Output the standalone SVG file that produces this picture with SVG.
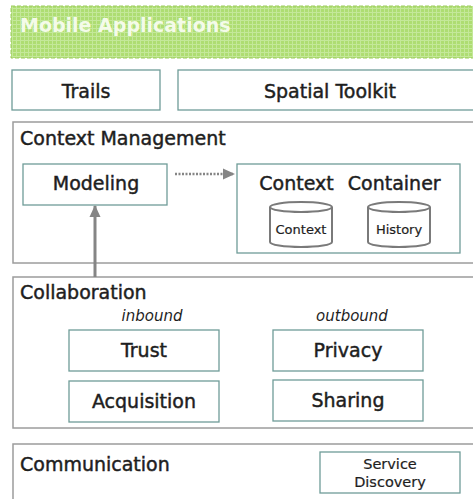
<svg xmlns="http://www.w3.org/2000/svg" width="473" height="499" viewBox="0 0 473 499">
  <style>
    .panel { fill: #ffffff; stroke: #9c9c9c; stroke-width: 1.5; }
    .box { fill: #ffffff; stroke: #6f9c98; stroke-width: 1.3; }
    text { font-family: "DejaVu Sans", "Liberation Sans", sans-serif; fill: #1e1e1e; }
    .title { font-size: 19px; stroke: #1e1e1e; stroke-width: 0.45; }
    .label { font-size: 19px; stroke: #1e1e1e; stroke-width: 0.45; text-anchor: middle; }
    .small { font-size: 13px; text-anchor: middle; stroke: #1e1e1e; stroke-width: 0.2; }
    .note { font-style: italic; font-size: 15px; text-anchor: middle; }
    .cyl { fill: #ffffff; stroke: #7a7a7a; stroke-width: 2; }
    .conn { stroke: #858585; fill: none; }
  </style>
  <defs>
    <pattern id="grid" width="4" height="4" patternUnits="userSpaceOnUse">
      <rect width="4" height="4" fill="#aedd72"/>
      <path d="M0 0.5 H4 M0.5 0 V4" stroke="#c4e89a" stroke-width="1"/>
    </pattern>
    <marker id="head" viewBox="0 0 12 12" refX="11" refY="6" markerWidth="12" markerHeight="12" markerUnits="userSpaceOnUse" orient="auto">
      <path d="M0 0.5 L12 6 L0 11.5 Z" fill="#858585"/>
    </marker>
  </defs>

  <rect width="473" height="499" fill="#ffffff"/>

  <!-- top banner -->
  <g id="mobile-applications">
    <rect x="11" y="6" width="470" height="52" fill="url(#grid)" stroke="#9ccc5e" stroke-width="1" stroke-dasharray="4 2"/>
    <text x="20" y="32" font-size="19" font-weight="bold" style="fill:#f4fbe9">Mobile Applications</text>
  </g>

  <g id="trails">
    <rect class="box" x="12" y="70" width="148" height="40"/>
    <text class="label" x="86" y="98">Trails</text>
  </g>
  <g id="spatial-toolkit">
    <rect class="box" x="178" y="70" width="300" height="40"/>
    <text class="label" x="330" y="98">Spatial Toolkit</text>
  </g>

  <!-- context management layer -->
  <g id="context-management">
    <rect class="panel" x="13" y="122" width="470" height="141"/>
    <text class="title" x="20" y="145">Context Management</text>
  </g>
  <g id="modeling">
    <rect class="box" x="23" y="164" width="144" height="41"/>
    <text class="label" x="96" y="190">Modeling</text>
  </g>
  <g id="context-container">
    <rect class="box" x="237" y="164" width="223" height="89"/>
    <text class="label" x="350" y="190" word-spacing="8">Context Container</text>
    <g id="context-store">
      <path class="cyl" d="M270 207 V242 A31 5 0 0 0 332 242 V207"/>
      <ellipse class="cyl" cx="301" cy="207" rx="31" ry="5"/>
      <text class="small" x="301" y="234">Context</text>
    </g>
    <g id="history-store">
      <path class="cyl" d="M368 207 V242 A31 5 0 0 0 430 242 V207"/>
      <ellipse class="cyl" cx="399" cy="207" rx="31" ry="5"/>
      <text class="small" x="399" y="234">History</text>
    </g>
  </g>

  <!-- collaboration layer -->
  <g id="collaboration">
    <rect class="panel" x="13" y="277" width="470" height="151"/>
    <text class="title" x="20" y="299">Collaboration</text>
    <text class="note" x="152" y="321">inbound</text>
    <text class="note" x="352" y="321">outbound</text>
  </g>
  <g id="trust">
    <rect class="box" x="69" y="330" width="150" height="41"/>
    <text class="label" x="144" y="357">Trust</text>
  </g>
  <g id="privacy">
    <rect class="box" x="273" y="330" width="150" height="41"/>
    <text class="label" x="348" y="357">Privacy</text>
  </g>
  <g id="acquisition">
    <rect class="box" x="69" y="381" width="150" height="41"/>
    <text class="label" x="144" y="408">Acquisition</text>
  </g>
  <g id="sharing">
    <rect class="box" x="273" y="380" width="150" height="41"/>
    <text class="label" x="348" y="407">Sharing</text>
  </g>

  <!-- communication layer -->
  <g id="communication">
    <rect class="panel" x="13" y="444" width="470" height="70"/>
    <text class="title" x="20" y="471">Communication</text>
  </g>
  <g id="service-discovery">
    <rect class="box" x="320" y="452" width="140" height="41"/>
    <text class="small" x="390" y="469" style="font-size:14.5px">Service</text>
    <text class="small" x="390" y="487" style="font-size:14.5px">Discovery</text>
  </g>

  <g id="connectors">
    <line class="conn" x1="175" y1="174" x2="234" y2="174" stroke-width="2.5" stroke-dasharray="2 1.5" marker-end="url(#head)"/>
    <line class="conn" x1="95" y1="277" x2="95" y2="206" stroke-width="3" marker-end="url(#head)"/>
  </g>
</svg>
